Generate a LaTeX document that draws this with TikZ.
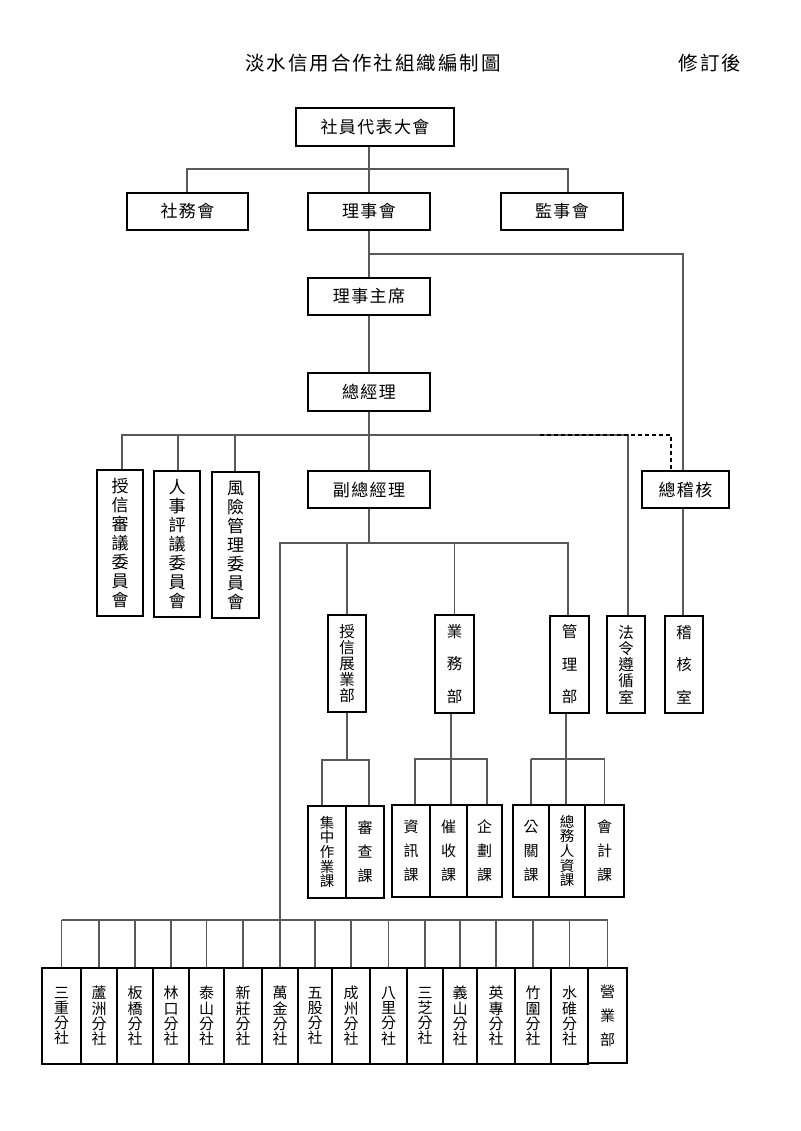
\documentclass[tikz,border=0pt]{standalone}
\usepackage{fontspec}
\newfontfamily\cjkh[LetterSpace=8]{Noto Sans CJK TC}
\newfontfamily\cjkt[LetterSpace=10]{Noto Sans CJK TC}
\newfontfamily\cjkv{Noto Sans CJK TC}
\newcommand\BX[7]{\node[#6, minimum width={(#4)-(#2)}, minimum height={(#5)-(#3)}] (#1) at ({((#2)+(#4))/2},{((#3)+(#5))/2}) {#7};}
\tikzset{
  boxbase/.style={draw=black, line width=2.2pt, inner sep=0pt, align=center, fill=white},
  hbox/.style={boxbase, font=\cjkh\fontsize{17}{19}\selectfont},
  vcom/.style={boxbase, font=\cjkv\fontsize{17}{19}\selectfont},
  vdepfive/.style={boxbase, font=\cjkv\fontsize{15.5}{16.2}\selectfont},
  vdepthree/.style={boxbase, font=\cjkv\fontsize{15.5}{32.5}\selectfont},
  vsecfive/.style={boxbase, font=\cjkv\fontsize{14.5}{14.6}\selectfont},
  vsecthree/.style={boxbase, font=\cjkv\fontsize{15}{24}\selectfont},
  vbr/.style={boxbase, font=\cjkv\fontsize{15}{15.2}\selectfont},
  conn/.style={draw=black!65, line width=1.1pt},
  dconn/.style={draw=black, line width=1.2pt, dash pattern=on 4pt off 3pt},
  titletext/.style={inner sep=0pt, font=\cjkt\fontsize{19.5}{22}\selectfont}
}
\begin{document}
\begin{tikzpicture}[x=1pt, y=-1pt]
\fill[white] (0,0) rectangle (800,1131);
\useasboundingbox (0,0) rectangle (800,1131);

% titles
\node[titletext] (title) at (373,63) {淡水信用合作社組織編制圖};
\node[titletext] (rev) at (710,63) {修訂後};

% junction coordinates
\coordinate (j1l) at (187,169);
\coordinate (j1m) at (369,169);
\coordinate (j1r) at (568,169);
\coordinate (j2) at (683,254);
\coordinate (j3l) at (122,435);
\coordinate (j3a) at (178,435);
\coordinate (j3b) at (235,435);
\coordinate (j3r) at (628,435);
\coordinate (d1) at (540,435);
\coordinate (d2) at (671,435);
\coordinate (j4r) at (568,543);
\coordinate (j6l) at (322,760);
\coordinate (j6r) at (369,760);
\coordinate (j7l) at (415,759);
\coordinate (j7m) at (451,759);
\coordinate (j7r) at (487,759);
\coordinate (j8) at (566,759);
\coordinate (ybr) at (0,920);

% boxes
\BX{A}{296}{108}{454}{146}{hbox}{社員代表大會}
\BX{B}{127}{193}{248}{230}{hbox}{社務會}
\BX{C}{308}{193}{430}{230}{hbox}{理事會}
\BX{D}{501}{193}{623}{230}{hbox}{監事會}
\BX{E}{308}{278}{430}{315}{hbox}{理事主席}
\BX{F}{308}{373}{430}{411}{hbox}{總經理}
\BX{G}{308}{471}{430}{508}{hbox}{副總經理}
\BX{H}{642}{471}{729}{508}{hbox}{總稽核}

\BX{K1}{97}{470}{143}{616}{vcom}{授\\信\\審\\議\\委\\員\\會}
\BX{K2}{154}{471}{200}{617}{vcom}{人\\事\\評\\議\\委\\員\\會}
\BX{K3}{212}{472}{259}{618}{vcom}{風\\險\\管\\理\\委\\員\\會}

\BX{P1}{328}{615}{366}{712}{vdepfive}{授\\信\\展\\業\\部}
\BX{P2}{435}{615}{474}{713}{vdepthree}{業\\務\\部}
\BX{P3}{550}{616}{589}{713}{vdepthree}{管\\理\\部}
\BX{P4}{607}{616}{645}{713}{vdepfive}{法\\令\\遵\\循\\室}
\BX{P5}{665}{616}{703}{713}{vdepthree}{稽\\核\\室}

\BX{S1}{308}{806}{346}{898}{vsecfive}{集\\中\\作\\業\\課}
\BX{S2}{346}{806}{384}{898}{vsecthree}{審\\查\\課}
\BX{S3}{392}{805}{430}{897}{vsecthree}{資\\訊\\課}
\BX{S4}{430}{805}{467}{897}{vsecthree}{催\\收\\課}
\BX{S5}{467}{805}{502}{897}{vsecthree}{企\\劃\\課}
\BX{S6}{513}{805}{549}{897}{vsecthree}{公\\關\\課}
\BX{S7}{549}{805}{585}{897}{vsecfive}{總\\務\\人\\資\\課}
\BX{S8}{585}{805}{624}{897}{vsecthree}{會\\計\\課}

\BX{R1}{42}{968}{81}{1064}{vbr}{三\\重\\分\\社}
\BX{R2}{81}{968}{117}{1064}{vbr}{蘆\\洲\\分\\社}
\BX{R3}{117}{968}{153}{1064}{vbr}{板\\橋\\分\\社}
\BX{R4}{153}{968}{189}{1064}{vbr}{林\\口\\分\\社}
\BX{R5}{189}{968}{224}{1064}{vbr}{泰\\山\\分\\社}
\BX{R6}{224}{968}{262}{1064}{vbr}{新\\莊\\分\\社}
\BX{R7}{262}{968}{298}{1064}{vbr}{萬\\金\\分\\社}
\BX{R8}{298}{968}{332}{1064}{vbr}{五\\股\\分\\社}
\BX{R9}{332}{968}{370}{1064}{vbr}{成\\州\\分\\社}
\BX{R10}{370}{968}{407}{1064}{vbr}{八\\里\\分\\社}
\BX{R11}{407}{968}{443}{1064}{vbr}{三\\芝\\分\\社}
\BX{R12}{443}{968}{477}{1064}{vbr}{義\\山\\分\\社}
\BX{R13}{477}{968}{515}{1064}{vbr}{英\\專\\分\\社}
\BX{R14}{515}{968}{551}{1064}{vbr}{竹\\圍\\分\\社}
\BX{R15}{551}{968}{588}{1064}{vbr}{水\\碓\\分\\社}
\BX{R16}{588}{968}{627}{1063}{vsecthree}{營\\業\\部}

% connectors
\draw[conn] (C.north |- A.south) -- (C.north);
\draw[conn] (j1l |- B.north) -- (j1l) -- (j1r) -- (j1r |- D.north);
\draw[conn] (C.south) -- (E.north);
\draw[conn] (C.south |- j2) -- (j2) -- (j2 |- H.north);
\draw[conn] (E.south) -- (F.north);
\draw[conn] (F.south) -- (G.north);
\draw[conn] (j3l |- K1.north) -- (j3l) -- (j3r) -- (j3r |- P4.north);
\draw[conn] (j3a) -- (j3a |- K2.north);
\draw[conn] (j3b) -- (j3b |- K3.north);
\draw[dconn] (d1) -- (d2) -- (d2 |- H.north);
\draw[conn] (G.south) -- (G.south |- j4r);
\draw[conn] (R7.north |- ybr) -- (R7.north |- j4r) -- (j4r) -- (j4r |- P3.north);
\draw[conn] (P1.north |- j4r) -- (P1.north);
\draw[conn] (P2.north |- j4r) -- (P2.north);
\draw[conn] (H.south -| j2) -- (j2 |- P5.north);
\draw[conn] (P1.south) -- (P1.south |- j6l);
\draw[conn] (j6l |- S1.north) -- (j6l) -- (j6r) -- (j6r |- S2.north);
\draw[conn] (j7m |- P2.south) -- (j7m) -- (j7m |- S4.north);
\draw[conn] (j7l |- S3.north) -- (j7l) -- (j7r) -- (j7r |- S5.north);
\draw[conn] (j8 |- P3.south) -- (j8) -- (j8 |- S7.north);
\draw[conn] (S6.north |- j8) -- (S8.north |- j8);
\draw[conn] (S6.north |- j8) -- (S6.north);
\draw[conn] (S8.north |- j8) -- (S8.north);
\draw[conn] (R1.north |- ybr) -- (R16.north |- ybr);
\foreach \r in {R1,R2,R3,R4,R5,R6,R7,R8,R9,R10,R11,R12,R13,R14,R15,R16}{
  \draw[conn] (\r.north |- ybr) -- (\r.north);
}
\end{tikzpicture}
\end{document}
